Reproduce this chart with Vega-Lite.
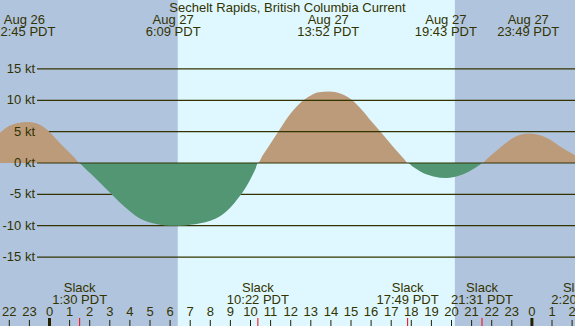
{
  "$schema": "https://vega.github.io/schema/vega-lite/v6.json",
  "width": 575,
  "height": 326,
  "autosize": {"type": "none"},
  "padding": 0,
  "background": "#b0c4de",
  "config": {"view": {"stroke": null}, "axis": {"disable": true}},
  "data": {
    "values": [
      {"set": "sky", "h": -2.463, "h2": 6.38, "period": "night"},
      {"set": "sky", "h": 6.38, "h2": 20.17, "period": "day"},
      {"set": "sky", "h": 20.17, "h2": 26.144, "period": "night"},
      {"set": "curve", "h": -2.463, "v": 4.8}, {"set": "curve", "h": -2.0, "v": 5.9}, {"set": "curve", "h": -1.5, "v": 6.4}, {"set": "curve", "h": -1.2, "v": 6.5},
      {"set": "curve", "h": -0.9, "v": 6.45}, {"set": "curve", "h": -0.5, "v": 6.1}, {"set": "curve", "h": 0, "v": 4.95}, {"set": "curve", "h": 0.5, "v": 3.25},
      {"set": "curve", "h": 1.0, "v": 1.65}, {"set": "curve", "h": 1.25, "v": 0.82}, {"set": "curve", "h": 1.5, "v": 0}, {"set": "curve", "h": 1.75, "v": -0.8},
      {"set": "curve", "h": 2.0, "v": -1.57}, {"set": "curve", "h": 2.5, "v": -3.1}, {"set": "curve", "h": 3.0, "v": -4.7}, {"set": "curve", "h": 3.5, "v": -6.3},
      {"set": "curve", "h": 4.0, "v": -7.7}, {"set": "curve", "h": 4.5, "v": -8.85}, {"set": "curve", "h": 5.0, "v": -9.5}, {"set": "curve", "h": 5.5, "v": -9.85},
      {"set": "curve", "h": 6.0, "v": -10.0}, {"set": "curve", "h": 6.5, "v": -10.0}, {"set": "curve", "h": 7.0, "v": -9.85}, {"set": "curve", "h": 7.5, "v": -9.6},
      {"set": "curve", "h": 8.0, "v": -9.2}, {"set": "curve", "h": 8.5, "v": -8.45}, {"set": "curve", "h": 9.0, "v": -7.1}, {"set": "curve", "h": 9.4, "v": -5.55},
      {"set": "curve", "h": 9.8, "v": -3.7}, {"set": "curve", "h": 10.1, "v": -1.9}, {"set": "curve", "h": 10.25, "v": -0.9}, {"set": "curve", "h": 10.367, "v": 0},
      {"set": "curve", "h": 10.6, "v": 1.2}, {"set": "curve", "h": 10.9, "v": 2.65}, {"set": "curve", "h": 11.4, "v": 5.1}, {"set": "curve", "h": 11.9, "v": 7.5},
      {"set": "curve", "h": 12.4, "v": 9.35}, {"set": "curve", "h": 12.9, "v": 10.6}, {"set": "curve", "h": 13.4, "v": 11.3}, {"set": "curve", "h": 13.9, "v": 11.4},
      {"set": "curve", "h": 14.5, "v": 11.05}, {"set": "curve", "h": 15.0, "v": 10.15}, {"set": "curve", "h": 15.5, "v": 8.6}, {"set": "curve", "h": 16.0, "v": 6.7},
      {"set": "curve", "h": 16.5, "v": 4.85}, {"set": "curve", "h": 17.0, "v": 2.95}, {"set": "curve", "h": 17.45, "v": 1.3}, {"set": "curve", "h": 17.65, "v": 0.6},
      {"set": "curve", "h": 17.817, "v": 0}, {"set": "curve", "h": 18.1, "v": -0.65}, {"set": "curve", "h": 18.45, "v": -1.35}, {"set": "curve", "h": 19.1, "v": -2.15},
      {"set": "curve", "h": 19.75, "v": -2.4}, {"set": "curve", "h": 20.4, "v": -2.0}, {"set": "curve", "h": 21.0, "v": -1.1}, {"set": "curve", "h": 21.3, "v": -0.52},
      {"set": "curve", "h": 21.517, "v": 0}, {"set": "curve", "h": 21.8, "v": 0.75}, {"set": "curve", "h": 22.4, "v": 2.4}, {"set": "curve", "h": 23.1, "v": 4.05},
      {"set": "curve", "h": 23.85, "v": 4.7}, {"set": "curve", "h": 24.7, "v": 4.05}, {"set": "curve", "h": 25.4, "v": 2.65}, {"set": "curve", "h": 26.2, "v": 1.15},
      {"set": "grid", "kt": 15, "label": "15 kt"}, {"set": "grid", "kt": 10, "label": "10 kt"}, {"set": "grid", "kt": 5, "label": "5 kt"},
      {"set": "grid", "kt": 0, "label": "0 kt"}, {"set": "grid", "kt": -5, "label": "-5 kt"}, {"set": "grid", "kt": -10, "label": "-10 kt"},
      {"set": "grid", "kt": -15, "label": "-15 kt"},
      {"set": "event", "h": -1.25, "label": "Aug 26\n22:45 PDT"},
      {"set": "event", "h": 6.15, "label": "Aug 27\n6:09 PDT"},
      {"set": "event", "h": 13.867, "label": "Aug 27\n13:52 PDT"},
      {"set": "event", "h": 19.717, "label": "Aug 27\n19:43 PDT"},
      {"set": "event", "h": 23.817, "label": "Aug 27\n23:49 PDT"},
      {"set": "slack", "h": 1.5, "label": "Slack\n1:30 PDT"},
      {"set": "slack", "h": 10.367, "label": "Slack\n10:22 PDT"},
      {"set": "slack", "h": 17.817, "label": "Slack\n17:49 PDT"},
      {"set": "slack", "h": 21.517, "label": "Slack\n21:31 PDT"},
      {"set": "slack", "h": 26.333, "label": "Slack\n2:20 PDT"},
      {"set": "hour", "h": -2, "label": "22"}, {"set": "hour", "h": -1, "label": "23"}, {"set": "hour", "h": 0, "label": "0"}, {"set": "hour", "h": 1, "label": "1"},
      {"set": "hour", "h": 2, "label": "2"}, {"set": "hour", "h": 3, "label": "3"}, {"set": "hour", "h": 4, "label": "4"}, {"set": "hour", "h": 5, "label": "5"},
      {"set": "hour", "h": 6, "label": "6"}, {"set": "hour", "h": 7, "label": "7"}, {"set": "hour", "h": 8, "label": "8"}, {"set": "hour", "h": 9, "label": "9"},
      {"set": "hour", "h": 10, "label": "10"}, {"set": "hour", "h": 11, "label": "11"}, {"set": "hour", "h": 12, "label": "12"}, {"set": "hour", "h": 13, "label": "13"},
      {"set": "hour", "h": 14, "label": "14"}, {"set": "hour", "h": 15, "label": "15"}, {"set": "hour", "h": 16, "label": "16"}, {"set": "hour", "h": 17, "label": "17"},
      {"set": "hour", "h": 18, "label": "18"}, {"set": "hour", "h": 19, "label": "19"}, {"set": "hour", "h": 20, "label": "20"}, {"set": "hour", "h": 21, "label": "21"},
      {"set": "hour", "h": 22, "label": "22"}, {"set": "hour", "h": 23, "label": "23"}, {"set": "hour", "h": 24, "label": "0"}, {"set": "hour", "h": 25, "label": "1"},
      {"set": "hour", "h": 26, "label": "2"},
      {"set": "heading", "label": "Sechelt Rapids, British Columbia Current"}
    ]
  },
  "layer": [
    {
      "transform": [{"filter": "datum.set == 'sky'"}],
      "mark": {"type": "rect"},
      "encoding": {
        "x": {"field": "h", "type": "quantitative", "scale": {"domain": [-2.463, 26.144], "nice": false, "zero": false}, "axis": null},
        "x2": {"field": "h2"},
        "y": {"datum": -26, "type": "quantitative", "scale": {"domain": [-26, 26], "nice": false, "zero": false}, "axis": null},
        "y2": {"datum": 26},
        "color": {"field": "period", "type": "nominal", "scale": {"domain": ["night", "day"], "range": ["#b0c4de", "#dff8ff"]}, "legend": null}
      }
    },
    {
      "transform": [{"filter": "datum.set == 'curve' && datum.v >= 0"}],
      "mark": {"type": "area", "interpolate": "monotone", "color": "#bc9b7b"},
      "encoding": {
        "x": {"field": "h", "type": "quantitative", "axis": null},
        "y": {"field": "v", "type": "quantitative", "axis": null},
        "y2": {"datum": 0}
      }
    },
    {
      "transform": [{"filter": "datum.set == 'grid' && datum.kt != 0"}],
      "mark": {"type": "rule", "color": "#333300", "strokeWidth": 1.2},
      "encoding": {
        "y": {"field": "kt", "type": "quantitative", "axis": null},
        "x": {"datum": -0.62, "type": "quantitative", "axis": null},
        "x2": {"datum": 26.144}
      }
    },
    {
      "transform": [{"filter": "datum.set == 'curve' && datum.v >= 0 && datum.h <= 0"}],
      "mark": {"type": "area", "interpolate": "monotone", "color": "#bc9b7b"},
      "encoding": {
        "x": {"field": "h", "type": "quantitative", "axis": null},
        "y": {"field": "v", "type": "quantitative", "axis": null},
        "y2": {"datum": 0}
      }
    },
    {
      "transform": [{"filter": "datum.set == 'curve' && datum.v <= 0"}],
      "mark": {"type": "area", "interpolate": "monotone", "color": "#529673"},
      "encoding": {
        "x": {"field": "h", "type": "quantitative", "axis": null},
        "y": {"field": "v", "type": "quantitative", "axis": null},
        "y2": {"datum": 0}
      }
    },
    {
      "transform": [{"filter": "datum.set == 'grid' && datum.kt == 0"}],
      "mark": {"type": "rule", "color": "#333300", "strokeWidth": 1.2},
      "encoding": {
        "y": {"field": "kt", "type": "quantitative", "axis": null},
        "x": {"datum": -0.62, "type": "quantitative", "axis": null},
        "x2": {"datum": 26.144}
      }
    },
    {
      "transform": [{"filter": "datum.set == 'grid'"}],
      "mark": {"type": "text", "align": "right", "baseline": "middle", "font": "Liberation Sans", "fontSize": 13, "color": "#333300"},
      "encoding": {
        "y": {"field": "kt", "type": "quantitative", "axis": null},
        "x": {"datum": -0.72, "type": "quantitative", "axis": null},
        "text": {"field": "label", "type": "nominal"}
      }
    },
    {
      "transform": [{"filter": "datum.set == 'heading'"}],
      "mark": {"type": "text", "align": "center", "baseline": "alphabetic", "font": "Liberation Sans", "fontSize": 13, "color": "#333300"},
      "encoding": {
        "x": {"datum": 11.84, "type": "quantitative", "axis": null},
        "y": {"datum": 24.13, "type": "quantitative", "axis": null},
        "text": {"field": "label", "type": "nominal"}
      }
    },
    {
      "transform": [{"filter": "datum.set == 'event'"}],
      "mark": {"type": "text", "align": "center", "baseline": "alphabetic", "lineBreak": "\n", "lineHeight": 12, "font": "Liberation Sans", "fontSize": 13, "color": "#333300"},
      "encoding": {
        "x": {"field": "h", "type": "quantitative", "axis": null},
        "y": {"datum": 22.17, "type": "quantitative", "axis": null},
        "text": {"field": "label", "type": "nominal"}
      }
    },
    {
      "transform": [{"filter": "datum.set == 'hour'"}],
      "mark": {"type": "rule", "color": "#222200", "strokeWidth": 1},
      "encoding": {
        "x": {"field": "h", "type": "quantitative", "axis": null},
        "y": {"datum": -26, "type": "quantitative", "axis": null},
        "y2": {"datum": -25.04}
      }
    },
    {
      "transform": [{"filter": "datum.set == 'hour' && (datum.h == 0 || datum.h == 24)"}],
      "mark": {"type": "rule", "color": "#222200", "strokeWidth": 3},
      "encoding": {
        "x": {"field": "h", "type": "quantitative", "axis": null},
        "y": {"datum": -26, "type": "quantitative", "axis": null},
        "y2": {"datum": -24.72}
      }
    },
    {
      "transform": [{"filter": "datum.set == 'slack'"}],
      "mark": {"type": "rule", "color": "#ff0000", "strokeWidth": 1},
      "encoding": {
        "x": {"field": "h", "type": "quantitative", "axis": null},
        "y": {"datum": -26, "type": "quantitative", "axis": null},
        "y2": {"datum": -24.72}
      }
    },
    {
      "transform": [{"filter": "datum.set == 'hour'"}],
      "mark": {"type": "text", "align": "center", "baseline": "alphabetic", "font": "Liberation Sans", "fontSize": 13, "color": "#333300"},
      "encoding": {
        "x": {"field": "h", "type": "quantitative", "axis": null},
        "y": {"datum": -24.4, "type": "quantitative", "axis": null},
        "text": {"field": "label", "type": "nominal"}
      }
    },
    {
      "transform": [{"filter": "datum.set == 'slack'"}],
      "mark": {"type": "text", "align": "center", "baseline": "alphabetic", "lineBreak": "\n", "lineHeight": 12, "font": "Liberation Sans", "fontSize": 13, "color": "#333300"},
      "encoding": {
        "x": {"field": "h", "type": "quantitative", "axis": null},
        "y": {"datum": -20.58, "type": "quantitative", "axis": null},
        "text": {"field": "label", "type": "nominal"}
      }
    }
  ]
}
